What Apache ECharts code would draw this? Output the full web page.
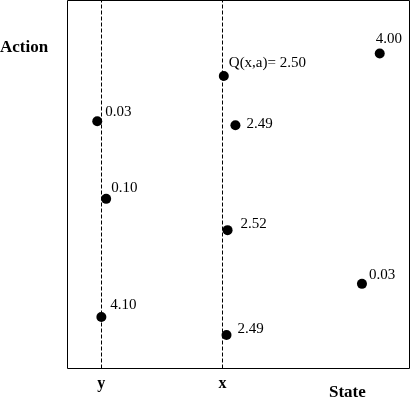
<!DOCTYPE html>
<html>

<head>
    <meta http-equiv="Content-Type" content="text/html; charset=utf-8" />
    <title>Q(x,a)</title>
    <style type="text/css">
    body,
    html {
        width: 100%;
        height: 100%;
        margin: 0;
        overflow: hidden;
        background-color: #fff;
    }

    #container {
        width: 410px;
        height: 399px;
    }
    </style>
</head>

<body>
    <div id="container"></div>
</body>
<script src="https://cdn.jsdelivr.net/npm/echarts@6/dist/echarts.min.js"></script>
<script>
// state positions (0-100 across the box) and their names
var stateValues = [9.9, 45.3];
var stateNames = ['y', 'x'];

// points: state coordinate, action coordinate, Q value label
var pointState = [91.3, 45.7, 8.7, 49.1, 11.3, 46.8, 86.1, 9.9, 46.5];
var pointAction = [85.6, 79.5, 67.2, 66.1, 46.1, 37.6, 23.0, 14.0, 9.1];
var pointLabels = ['4.00', 'Q(x,a)= 2.50', '0.03', '2.49', '0.10', '2.52', '0.03', '4.10', '2.49'];

// label offsets from the right edge of each dot
var labelOffsets = [[-9, -14], [0, -13], [3, -9], [6, -1], [0, -11], [8, -6], [2, -9], [4, -12], [6, -6]];

var serif = "'Liberation Serif', 'DejaVu Serif', serif";

var chartDom = document.getElementById('container');
var myChart = echarts.init(chartDom);

var points = pointState.map(function(s, i) {
    return {
        value: [s, pointAction[i]],
        label: { formatter: pointLabels[i], offset: labelOffsets[i] }
    };
});

var option = {
    animation: false,
    grid: {
        left: 67.5,
        top: 0.5,
        right: 0.5,
        bottom: 30.5,
        show: true,
        borderColor: '#000',
        borderWidth: 1
    },
    xAxis: {
        type: 'value',
        min: 0,
        max: 100,
        axisLine: { show: false },
        axisTick: { show: false },
        splitLine: { show: false },
        axisLabel: {
            customValues: stateValues,
            formatter: function(v) {
                var i = stateValues.indexOf(v);
                return i >= 0 ? stateNames[i] : '';
            },
            margin: 7,
            verticalAlign: 'top',
            color: '#000',
            fontFamily: serif,
            fontWeight: 'bold',
            fontSize: 16
        }
    },
    yAxis: {
        type: 'value',
        min: 0,
        max: 100,
        axisLine: { show: false },
        axisTick: { show: false },
        splitLine: { show: false },
        axisLabel: { show: false }
    },
    graphic: [{
        type: 'text',
        left: 0,
        top: 39,
        style: { text: 'Action', font: 'bold 17px ' + serif, fill: '#000' }
    }, {
        type: 'text',
        left: 329,
        top: 384,
        style: { text: 'State', font: 'bold 17px ' + serif, fill: '#000' }
    }],
    series: [{
        type: 'scatter',
        symbolSize: 10,
        itemStyle: { color: '#000', opacity: 1 },
        label: {
            show: true,
            position: 'right',
            distance: 0,
            color: '#000',
            fontFamily: serif,
            fontSize: 15
        },
        data: points,
        markLine: {
            silent: true,
            symbol: 'none',
            label: { show: false },
            lineStyle: { color: '#000', type: [4, 2], width: 1, opacity: 1 },
            data: stateValues.map(function(v) { return { xAxis: v }; })
        },
        z: 3
    }]
};

myChart.setOption(option);
</script>

</html>
